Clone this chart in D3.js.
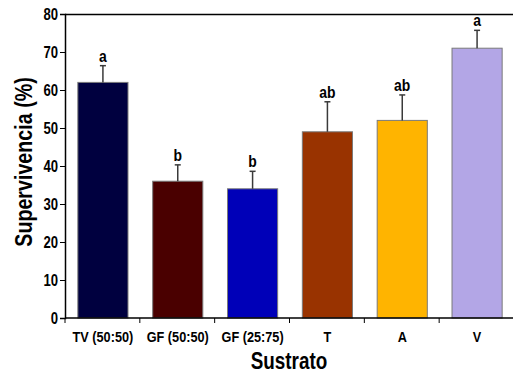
<!DOCTYPE html>
<html>
<head>
<meta charset="utf-8">
<script src="https://cdn.jsdelivr.net/npm/d3@7"></script>
<style>
  html, body { margin: 0; padding: 0; background: #fff; }
  svg { display: block; }
  text { font-family: "Liberation Sans", Arial, sans-serif; font-weight: bold; fill: #000; }
</style>
</head>
<body>
<svg id="chart" width="513" height="375"></svg>
<script>
// Survival (%) by substrate, with standard error and Tukey group letters
const categories = ["TV (50:50)", "GF (50:50)", "GF (25:75)", "T", "A", "V"];
const survival   = [62, 36, 34, 49, 52, 71];
const errorTop   = [66.4, 40.3, 38.6, 56.9, 58.7, 75.7];
const groups     = ["a", "b", "b", "ab", "ab", "a"];
const barColors  = ["#00003f", "#4a0000", "#0000b8", "#993300", "#ffb400", "#b3a6e6"];
const yTicks     = [0, 10, 20, 30, 40, 50, 60, 70, 80];

const svg = d3.select("#chart");
const W = 513;
const plotLeft = 65, plotTop = 14, plotBottom = 318;
const NARROW = 0.82; // horizontal squeeze to give a condensed typeface

// Text helper: condensed bold label anchored at (x, y)
function label(parent, x, y, str, size, anchor = "middle", rotate = 0) {
  return parent.append("text")
    .attr("transform", `translate(${x},${y}) rotate(${rotate}) scale(${NARROW},1)`)
    .attr("text-anchor", anchor)
    .attr("font-size", size)
    .text(str);
}

const x = d3.scaleBand()
  .domain(categories)
  .range([plotLeft, 514])
  .paddingInner(0.33)
  .paddingOuter(0.165);

const y = d3.scaleLinear()
  .domain([0, 80])
  .range([plotBottom, plotTop]);

const cx = d => x(d) + x.bandwidth() / 2 + 0.5;

// Bars
svg.append("g").selectAll("rect")
  .data(categories)
  .join("rect")
  .attr("x", d => x(d) + 0.5)
  .attr("y", (d, i) => y(survival[i]))
  .attr("width", x.bandwidth())
  .attr("height", (d, i) => y(0) - y(survival[i]))
  .attr("fill", (d, i) => barColors[i])
  .attr("stroke", "#7a7a7a")
  .attr("stroke-width", 1);

// Error bars (upper only)
const eb = svg.append("g").attr("stroke", "#3a3a3a").attr("stroke-width", 1.5);
categories.forEach((c, i) => {
  eb.append("line").attr("x1", cx(c)).attr("x2", cx(c))
    .attr("y1", y(survival[i])).attr("y2", y(errorTop[i]));
  eb.append("line").attr("x1", cx(c) - 3).attr("x2", cx(c) + 3)
    .attr("y1", y(errorTop[i])).attr("y2", y(errorTop[i]));
});

// Group letters
const gl = svg.append("g");
categories.forEach((c, i) => label(gl, cx(c), y(errorTop[i]) - 4, groups[i], 17));

// Top frame line
svg.append("line")
  .attr("x1", plotLeft).attr("x2", W)
  .attr("y1", plotTop + 0.5).attr("y2", plotTop + 0.5)
  .attr("stroke", "#000").attr("stroke-width", 1.5);

// Y axis
const yAxis = svg.append("g")
  .attr("transform", `translate(${plotLeft},0)`)
  .call(d3.axisLeft(y).tickValues(yTicks).tickSize(5).tickPadding(2).tickFormat(d3.format("d")));
yAxis.select(".domain").attr("stroke", "#000").attr("stroke-width", 1.5);
yAxis.selectAll(".tick line").attr("stroke", "#000").attr("stroke-width", 1);
yAxis.selectAll(".tick text")
  .attr("font-size", 16)
  .attr("font-family", null)
  .attr("x", -7 / NARROW)
  .attr("dy", "0.36em")
  .attr("transform", `scale(${NARROW},1)`);

// X axis with ticks at category boundaries
const xAxis = svg.append("g").attr("transform", `translate(0,${y(0)})`);
xAxis.append("line")
  .attr("x1", plotLeft).attr("x2", W)
  .attr("stroke", "#000").attr("stroke-width", 1.5);
d3.range(categories.length).forEach(i => {
  const tx = plotLeft + i * x.step();
  xAxis.append("line").attr("x1", tx).attr("x2", tx)
    .attr("y1", 0).attr("y2", 5).attr("stroke", "#000");
});
categories.forEach(c => label(xAxis, cx(c), 23.5, c, 15.5));

// Axis titles
label(svg, 289, 369, "Sustrato", 23);
label(svg, 32, 162, "Supervivencia (%)", 24, "middle", -90);
</script>
</body>
</html>
